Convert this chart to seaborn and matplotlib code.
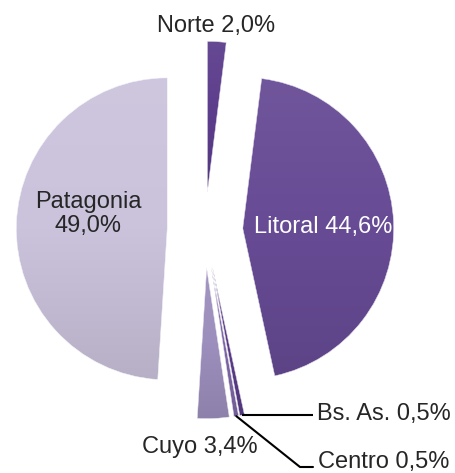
import numpy as np
import matplotlib.pyplot as plt
import seaborn as sns
from matplotlib.patches import Wedge
from matplotlib.colors import LinearSegmentedColormap, to_rgb

# data
regions = ['Norte', 'Litoral', 'Bs. As.', 'Centro', 'Cuyo', 'Patagonia']
shares = [2.0, 44.6, 0.5, 0.5, 3.4, 49.0]
colors = ['#5c3d8c', '#674b95', '#5a3d89', '#7d67a7', '#9d8fbd', '#cbc3dc']

sns.set_theme(style='white')
plt.rcParams['font.family'] = ['Liberation Sans', 'DejaVu Sans']

W, H = 456, 473
R = 151.0            # pie radius in pixels
CX, CY = 205.0, 230.0  # pie centre in pixels


def px(x, y):
    """pixel position -> data coords (radius = 1)"""
    return (x - CX) / R, (CY - y) / R


def fmt(v):
    return '{:.1f}%'.format(v).replace('.', ',')


def shade(c, f):
    c = np.array(to_rgb(c))
    if f > 0:
        return tuple(c + (1 - c) * f)
    return tuple(c * (1 + f))


fig = plt.figure(figsize=(W / 100, H / 100), dpi=100)
ax = fig.add_axes([0, 0, 1, 1])
wedges, _ = ax.pie(shares, colors=colors, startangle=90, counterclock=False,
                   explode=[0.25] * len(shares), radius=1,
                   wedgeprops=dict(linewidth=0))
ax.set_xlim(px(0, 0)[0], px(W, 0)[0])
ax.set_ylim(px(0, H)[1], px(0, 0)[1])
ax.set_aspect('auto')
ax.axis('off')

# soft vertical gradient on each slice, plus thin white rim
for w, c in zip(wedges, colors):
    v = w.get_path().vertices
    x0, x1 = v[:, 0].min(), v[:, 0].max()
    y0, y1 = v[:, 1].min(), v[:, 1].max()
    cmap = LinearSegmentedColormap.from_list('g', [shade(c, -0.10), c, shade(c, 0.06)])
    grad = np.linspace(0, 1, 256).reshape(-1, 1)
    im = ax.imshow(grad, cmap=cmap, origin='lower', aspect='auto',
                   extent=(x0, x1, y0, y1), zorder=2)
    im.set_clip_path(w)
    ax.add_patch(Wedge(w.center, w.r, w.theta1, w.theta2, fc='none',
                       ec='white', lw=0.4, zorder=3))

# labels
fs = 17
x, y = px(216, 32)
ax.text(x, y, regions[0] + ' ' + fmt(shares[0]), ha='center', va='baseline', fontsize=fs)
x, y = px(323, 233)
ax.text(x, y, regions[1] + ' ' + fmt(shares[1]), ha='center', va='baseline',
        fontsize=fs, color='white', zorder=5)
x, y = px(88, 214)
ax.text(x, y, regions[5] + '\n' + fmt(shares[5]), ha='center', va='center',
        fontsize=fs, linespacing=1.15, zorder=5)
x, y = px(200, 453)
ax.text(x, y, regions[4] + ' ' + fmt(shares[4]), ha='center', va='baseline', fontsize=fs)

# leader lines for the thin slices
def tip(w):
    t = np.deg2rad((w.theta1 + w.theta2) / 2)
    return w.center[0] + w.r * np.cos(t), w.center[1] + w.r * np.sin(t)

bx, by = tip(wedges[2])
ex, _ = px(313, 0)
ax.plot([bx, ex], [by, by], color='black', lw=1.5, zorder=4, solid_capstyle='butt')
x, y = px(317, 420)
ax.text(x, y, regions[2] + ' ' + fmt(shares[2]), ha='left', va='baseline', fontsize=fs)

cx_, cy_ = tip(wedges[3])
mx, my = px(300, 467)
ax.plot([cx_, mx, ex], [cy_, my, my], color='black', lw=1.5, zorder=4)
x, y = px(318, 468)
ax.text(x, y, regions[3] + ' ' + fmt(shares[3]), ha='left', va='baseline', fontsize=fs)

fig.savefig('out.png', dpi=100)
